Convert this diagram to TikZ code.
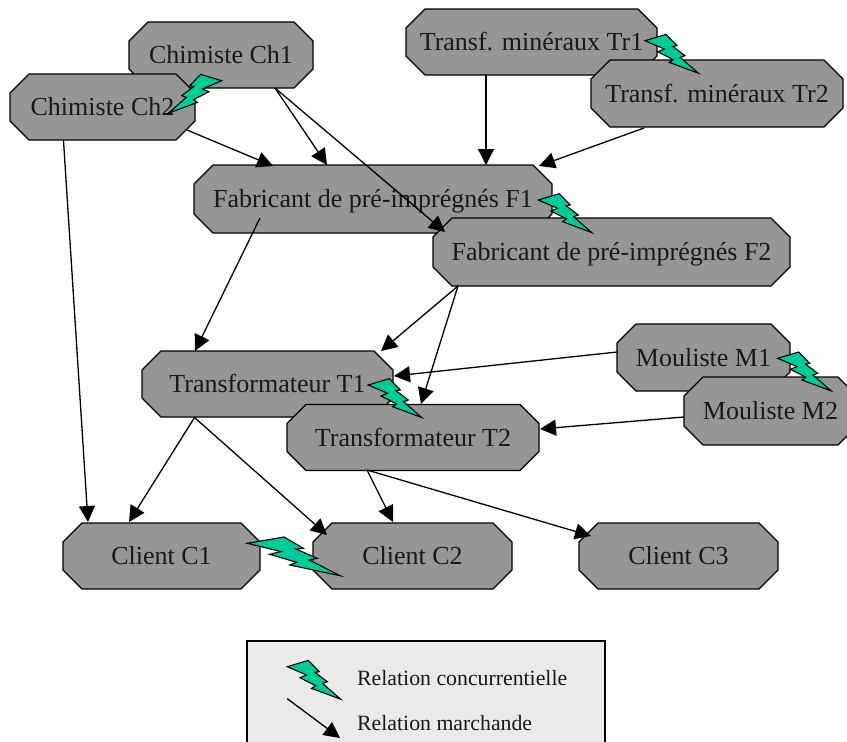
\documentclass[tikz,border=0pt]{standalone}
\usepackage{fontspec}
\setmainfont{Liberation Serif}
\usetikzlibrary{arrows.meta}
\definecolor{grisnoeud}{HTML}{969696}
\definecolor{grislegende}{HTML}{EAEAEA}
\definecolor{vertconc}{HTML}{00CC99}
\tikzset{
  octogone/.style={draw=black,fill=grisnoeud,line width=1.2pt},
  acteur/.style={inner sep=0pt,font=\fontsize{26}{26}\selectfont,text=black!90,text height=17pt,text depth=0pt},
  legende/.style={draw=black,fill=grislegende,line width=1.1pt,inner sep=0pt,minimum width=358pt,minimum height=118pt},
  legtexte/.style={anchor=base west,inner sep=0pt,font=\fontsize{21.8}{21.8}\selectfont,text=black!90},
  lien/.style={-{Triangle[length=16pt,width=16pt]},line width=1.3pt},
  eclair/.pic={
    \draw[fill=vertconc,line width=1.1pt,line join=miter] (0,0) -- (21,-6.3) -- (32,5) -- (27.7,5.7) -- (40,15) -- (35.3,16.7)
      -- (53.3,32.5) -- (24.3,21.7) -- (28.3,19) -- (12.7,11) -- (19.3,8.3) -- cycle;
  }
}
% nom, x, y, largeur, hauteur, texte
\newcommand{\acteur}[6]{
  \draw[octogone] ({#2-#4/2+19},{#3-#5/2}) -- ({#2+#4/2-19},{#3-#5/2}) -- ({#2+#4/2},{#3-#5/2+19}) -- ({#2+#4/2},{#3+#5/2-19})
    -- ({#2+#4/2-19},{#3+#5/2}) -- ({#2-#4/2+19},{#3+#5/2}) -- ({#2-#4/2},{#3+#5/2-19}) -- ({#2-#4/2},{#3-#5/2+19}) -- cycle;
  \node[acteur] (#1) at (#2,#3) {#6};
}
\begin{document}
\begin{tikzpicture}[x=1pt,y=-1pt]
\useasboundingbox (0,0) rectangle (847,742);

\acteur{Ch1}{221}{55}{184}{66}{Chimiste Ch1}
\acteur{Ch2}{102.5}{107}{185}{66}{Chimiste Ch2}
\acteur{Tr1}{531.5}{42}{251}{66}{Transf. minéraux Tr1}
\acteur{Tr2}{717}{93.5}{252}{67}{Transf. minéraux Tr2}
\acteur{F1}{373}{199}{358}{68}{Fabricant de pré-imprégnés F1}
\acteur{F2}{611.5}{252}{357}{68}{Fabricant de pré-imprégnés F2}
\acteur{T1}{267.5}{384}{251}{66}{Transformateur T1}
\acteur{T2}{413}{437.5}{252}{66}{Transformateur T2}
\acteur{M1}{703.5}{357.5}{173}{67}{Mouliste M1}
\acteur{M2}{770.5}{411}{173}{68}{Mouliste M2}
\acteur{C1}{161.5}{556}{197}{66}{Client C1}
\acteur{C2}{412.5}{556}{199}{66}{Client C2}
\acteur{C3}{678.5}{556}{199}{66}{Client C3}

\draw[lien] ([shift={(54,33)}]Ch1.center) -- ([shift={(-46,-34)}]F1.center);
\draw[lien] ([shift={(54,33)}]Ch1.center) -- ([shift={(-166.5,-20)}]F2.center);
\draw[lien] ([shift={(84.5,23)}]Ch2.center) -- ([shift={(-100,-33)}]F1.center);
\draw[lien] ([shift={(-39,33.5)}]Ch2.center) -- ([shift={(-73.5,-34)}]C1.center);
\draw[lien] ([shift={(-45.5,33)}]Tr1.center) -- ([shift={(113,-34)}]F1.center);
\draw[lien] ([shift={(-73,34.5)}]Tr2.center) -- ([shift={(166,-33)}]F1.center);
\draw[lien] ([shift={(-113,19)}]F1.center) -- ([shift={(-72.5,-33)}]T1.center);
\draw[lien] ([shift={(-153.5,34)}]F2.center) -- ([shift={(113.5,-33)}]T1.center);
\draw[lien] ([shift={(-153.5,34)}]F2.center) -- ([shift={(8,-33.5)}]T2.center);
\draw[lien] ([shift={(-86.5,-5.5)}]M1.center) -- ([shift={(126.5,-8)}]T1.center);
\draw[lien] ([shift={(-86.5,6)}]M2.center) -- ([shift={(127,-8.5)}]T2.center);
\draw[lien] ([shift={(-73,33.5)}]T1.center) -- ([shift={(-32.5,-34)}]C1.center);
\draw[lien] ([shift={(-73,33.5)}]T1.center) -- ([shift={(-85.5,-21)}]C2.center);
\draw[lien] ([shift={(-46,32.5)}]T2.center) -- ([shift={(-19.5,-34)}]C2.center);
\draw[lien] ([shift={(-46,32.5)}]T2.center) -- ([shift={(-87.5,-20)}]C3.center);

\pic[xscale=-1] at (221.7,80.7) {eclair};
\pic at (645,40.7) {eclair};
\pic at (538.3,200) {eclair};
\pic at (368.3,385) {eclair};
\pic at (777.7,358.3) {eclair};
\pic[xscale=1.75] at (247.3,543.3) {eclair};

\node[legende] (legende) at (426,700) {};
\pic at (287.3,666.7) {eclair};
\coordinate (debut) at (287.3,698.7);
\coordinate (fin) at (340,738);
\draw[lien] (debut) -- (fin);
\node[legtexte] (conc) at (357,685) {Relation concurrentielle};
\node[legtexte] (march) at (357,730) {Relation marchande};
\end{tikzpicture}
\end{document}
